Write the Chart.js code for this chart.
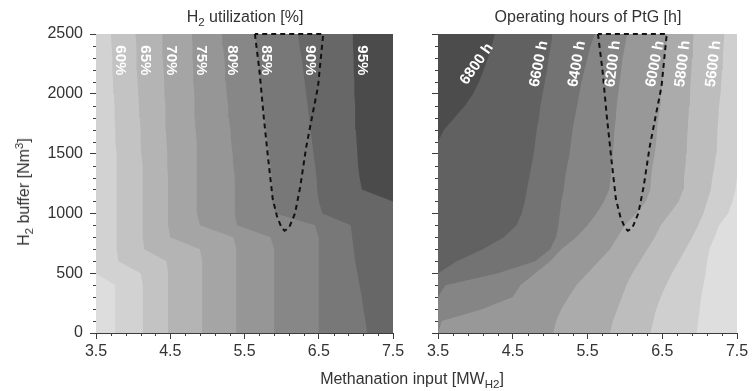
<!DOCTYPE html>
<html>
<head>
<meta charset="utf-8">
<script src="https://cdn.jsdelivr.net/npm/chart.js@4.4.1/dist/chart.umd.min.js"></script>
<style>
  html, body { margin: 0; padding: 0; background: #fff; }
  #wrap { position: relative; width: 753px; height: 391px; overflow: hidden;
          font-family: "Liberation Sans", Arial, sans-serif; color: #333; }
  .box { position: absolute; top: 0; height: 391px; }
  #leftBox { left: 0; width: 410px; }
  #rightBox { left: 400px; width: 353px; }
  .txt { position: absolute; white-space: nowrap; font-size: 16px; transform: translate(-50%, -50%); }
  .vert { transform: translate(-50%, -50%) rotate(-90deg); }
  sub, sup { font-size: 72%; line-height: 0; }
  sub { vertical-align: -0.35em; }
  sup { vertical-align: 0.55em; }
</style>
</head>
<body>
<div id="wrap">
  <div class="box" id="leftBox"><canvas id="util" width="410" height="391" style="width:410px;height:391px"></canvas></div>
  <div class="box" id="rightBox"><canvas id="hours" width="353" height="391" style="width:353px;height:391px"></canvas></div>
  <div class="txt" style="left:245px;top:17px">H<sub>2</sub> utilization [%]</div>
  <div class="txt" style="left:588px;top:17px">Operating hours of PtG [h]</div>
  <div class="txt vert" style="left:24px;top:192px">H<sub>2</sub> buffer [Nm<sup>3</sup>]</div>
  <div class="txt" style="left:412px;top:379px">Methanation input [MW<sub>H2</sub>]</div>
</div>
<script>
// H2 buffer levels (Nm3) at which every contour position is given
const bufferLevels = [0, 100, 200, 300, 400, 500, 600, 700, 800, 900, 1000, 1100, 1200,
  1300, 1400, 1500, 1600, 1700, 1800, 1900, 2000, 2100, 2200, 2300, 2400, 2500];

// Methanation input (MW) where each H2-utilization contour lies at those buffer levels
const util55 = [3.76,3.76,3.76,3.76,3.76,3.5,3.5,3.5,3.5,3.5,3.5,3.5,3.5,3.5,3.5,3.5,3.5,3.5,3.5,3.5,3.5,3.5,3.5,3.5,3.5,3.5];
const util60 = [4.13,4.13,4.13,4.13,4.13,4.10,3.80,3.78,3.78,3.78,3.78,3.78,3.78,3.78,3.77,3.77,3.76,3.76,3.75,3.75,3.74,3.73,3.72,3.72,3.71,3.70];
const util65 = [4.47,4.47,4.47,4.47,4.47,4.47,4.45,4.15,4.13,4.13,4.13,4.13,4.13,4.13,4.12,4.11,4.10,4.10,4.09,4.08,4.07,4.06,4.05,4.05,4.04,4.03];
const util70 = [4.93,4.93,4.93,4.93,4.93,4.93,4.93,4.90,4.50,4.47,4.47,4.47,4.47,4.47,4.46,4.46,4.45,4.44,4.44,4.43,4.42,4.42,4.41,4.40,4.40,4.39];
const util75 = [5.39,5.39,5.39,5.39,5.39,5.39,5.39,5.39,5.35,4.90,4.86,4.86,4.86,4.86,4.86,4.85,4.85,4.84,4.83,4.83,4.82,4.81,4.81,4.80,4.80,4.79];
const util80 = [5.90,5.90,5.90,5.90,5.90,5.90,5.90,5.90,5.85,5.40,5.37,5.37,5.37,5.37,5.35,5.34,5.32,5.31,5.29,5.28,5.26,5.25,5.24,5.23,5.21,5.20];
const util85 = [6.50,6.50,6.50,6.50,6.50,6.50,6.50,6.50,6.50,6.45,5.92,5.87,5.87,5.87,5.85,5.83,5.81,5.79,5.77,5.75,5.73,5.71,5.70,5.68,5.66,5.64];
const util90 = [7.15,7.13,7.10,7.08,7.05,7.02,6.99,6.97,6.95,6.93,6.55,6.50,6.48,6.47,6.45,6.43,6.41,6.39,6.37,6.35,6.33,6.31,6.29,6.27,6.24,6.22];
const util95 = [7.5,7.5,7.5,7.5,7.5,7.5,7.5,7.5,7.5,7.5,7.5,7.5,7.08,7.05,7.03,7.02,7.01,7.00,6.99,6.99,6.98,6.98,6.97,6.97,6.96,6.96];
const utilLevels = ['55%', '60%', '65%', '70%', '75%', '80%', '85%', '90%', '95%'];

// Methanation input (MW) where each operating-hours contour lies
const hours6800 = [3.5,3.5,3.5,3.5,3.5,3.5,3.5,3.5,3.5,3.5,3.5,3.5,3.5,3.5,3.5,3.5,3.5,3.58,3.72,3.86,3.97,4.05,4.11,4.17,4.22,4.26];
const hours6600 = [3.5,3.5,3.5,3.5,3.5,3.5,3.75,4.10,4.38,4.55,4.62,4.66,4.69,4.72,4.75,4.78,4.80,4.82,4.85,4.87,4.90,4.93,4.96,4.98,5.01,5.03];
const hours6400 = [3.5,3.5,3.5,3.5,3.6,4.3,4.8,5.0,5.08,5.11,5.13,5.15,5.18,5.20,5.23,5.26,5.28,5.30,5.33,5.36,5.39,5.42,5.46,5.50,5.54,5.60];
const hours6200 = [3.5,3.55,4.1,4.5,4.6,4.8,5.0,5.15,5.35,5.5,5.62,5.72,5.79,5.81,5.82,5.84,5.85,5.86,5.88,5.89,5.91,5.93,5.95,5.97,6.00,6.03];
const hours6000 = [5.04,5.08,5.15,5.25,5.35,5.5,5.65,5.8,5.9,6.0,6.15,6.28,6.34,6.35,6.37,6.40,6.42,6.43,6.45,6.47,6.48,6.50,6.52,6.53,6.55,6.56];
const hours5800 = [5.80,5.84,5.90,5.96,6.02,6.10,6.20,6.30,6.40,6.48,6.60,6.72,6.78,6.79,6.81,6.82,6.83,6.84,6.85,6.86,6.87,6.88,6.89,6.90,6.91,6.92];
const hours5600 = [6.34,6.38,6.42,6.48,6.55,6.63,6.72,6.81,6.90,6.98,7.05,7.10,7.15,7.17,7.20,7.22,7.23,7.24,7.25,7.26,7.28,7.29,7.30,7.31,7.32,7.33];
const hours5400 = [6.96,6.98,7.0,7.02,7.05,7.08,7.1,7.13,7.2,7.26,7.38,7.44,7.48,7.5,7.5,7.5,7.5,7.5,7.5,7.5,7.5,7.5,7.5,7.5,7.5,7.5];
const hoursLevels = ['6800 h', '6600 h', '6400 h', '6200 h', '6000 h', '5800 h', '5600 h', '5400 h'];

// Outline of the preferred operating window (same in both panels)
const windowX = [5.64, 5.70, 5.76, 5.82, 5.88, 5.94, 6.00, 6.04, 6.10, 6.18, 6.25, 6.33, 6.42, 6.49, 6.56, 5.64];
const windowY = [2500, 2200, 1800, 1450, 1120, 970, 880, 855, 880, 1000, 1220, 1550, 1840, 2060, 2500, 2500];

// Axis ticks
const xMajorTicks = [3.5, 4.5, 5.5, 6.5, 7.5];
const yMajorTicks = [0, 500, 1000, 1500, 2000, 2500];

// Band shades, from the region left of the first contour to the region right of the last
const utilShades = ['#dddddd', '#d2d2d2', '#c3c3c3', '#b4b4b4', '#a5a5a5', '#969696', '#878787', '#787878', '#676767', '#4b4b4b'];
const hoursShades = ['#4c4c4c', '#616161', '#737373', '#858585', '#989898', '#ababab', '#bdbdbd', '#cfcfcf', '#dedede'];

const X_MIN = 3.5, X_MAX = 7.5, Y_MIN = 0, Y_MAX = 2500;
const AXIS_COLOR = '#3c3c3c';
const TICK_FONT = { family: '"Liberation Sans", Arial, sans-serif', size: 16 };

function valueAt(xs, y) {
  for (let i = 1; i < bufferLevels.length; i++) {
    if (y <= bufferLevels[i]) {
      const t = (y - bufferLevels[i - 1]) / (bufferLevels[i] - bufferLevels[i - 1]);
      return xs[i - 1] + t * (xs[i] - xs[i - 1]);
    }
  }
  return xs[xs.length - 1];
}

// paints the band left of the first contour
const bandBackground = {
  id: 'bandBackground',
  beforeDatasetsDraw(chart, args, opts) {
    const { ctx, chartArea: a } = chart;
    ctx.save();
    ctx.fillStyle = opts.color;
    ctx.fillRect(a.left, a.top, a.right - a.left, a.bottom - a.top);
    ctx.restore();
  }
};
// short minor tick marks between the labelled ticks
const minorTicks = {
  id: 'minorTicks',
  afterDraw(chart) {
    const { ctx, chartArea: a, scales } = chart;
    ctx.save();
    ctx.strokeStyle = AXIS_COLOR;
    ctx.lineWidth = 1;
    ctx.beginPath();
    for (let k = 0; k <= 20; k++) {
      if (k % 5 === 0) continue;
      const px = Math.round(scales.x.getPixelForValue(X_MIN + k * 0.2)) + 0.5;
      ctx.moveTo(px, a.bottom); ctx.lineTo(px, a.bottom + 3);
    }
    for (let v = 100; v < Y_MAX; v += 100) {
      if (v % 500 === 0) continue;
      const py = Math.round(scales.y.getPixelForValue(v)) + 0.5;
      ctx.moveTo(a.left - 3, py); ctx.lineTo(a.left, py);
    }
    ctx.stroke();
    ctx.restore();
  }
};

function contourLabels(items, shift) {
  return {
    id: 'contourLabels',
    afterDatasetsDraw(chart) {
      const { ctx, scales } = chart;
      ctx.save();
      ctx.fillStyle = '#ffffff';
      ctx.font = 'bold 15px "Liberation Sans", Arial, sans-serif';
      ctx.textAlign = 'center';
      ctx.textBaseline = 'middle';
      items.forEach(it => {
        const px = scales.x.getPixelForValue(valueAt(it.contour, it.at)) + shift;
        const py = scales.y.getPixelForValue(it.at);
        ctx.save();
        ctx.translate(px, py);
        ctx.rotate(it.angle * Math.PI / 180);
        ctx.fillText(it.text, 0, 0);
        ctx.restore();
      });
      ctx.restore();
    }
  };
}

function buildPanel(canvasId, contours, shades, labelItems, labelShift, opt) {
  const datasets = contours.map((xs, k) => ({
    data: bufferLevels.map((y, i) => ({ x: xs[i], y })),
    fill: { value: X_MAX },
    backgroundColor: shades[k + 1],
    borderWidth: 0,
    pointRadius: 0,
    order: contours.length - k + 1
  }));
  datasets.push({
    data: windowX.map((x, i) => ({ x, y: windowY[i] })),
    fill: false,
    borderColor: '#111',
    borderWidth: 2,
    borderDash: [5, 4],
    pointRadius: 0,
    clip: 3,
    order: 0
  });
  return new Chart(document.getElementById(canvasId), {
    type: 'line',
    data: { datasets },
    plugins: [bandBackground, minorTicks, contourLabels(labelItems, labelShift)],
    options: {
      indexAxis: 'y',
      responsive: false,
      animation: false,
      events: [],
      layout: { padding: { top: 34, right: opt.padRight, left: 0, bottom: 0 } },
      elements: { line: { tension: 0 } },
      plugins: {
        legend: { display: false },
        tooltip: { enabled: false },
        bandBackground: { color: shades[0] }
      },
      scales: {
        x: {
          type: 'linear', min: X_MIN, max: X_MAX,
          afterBuildTicks: s => { s.ticks = xMajorTicks.map(v => ({ value: v })); },
          afterFit: s => { s.height = 58; },
          border: { color: AXIS_COLOR, width: 1 },
          grid: { drawOnChartArea: false, drawTicks: true, tickLength: 6, tickColor: AXIS_COLOR },
          ticks: { color: '#333', font: TICK_FONT, padding: 3, maxRotation: 0, autoSkip: false,
                   callback: v => v.toFixed(1) }
        },
        y: {
          type: 'linear', min: Y_MIN, max: Y_MAX,
          afterBuildTicks: s => { s.ticks = yMajorTicks.map(v => ({ value: v })); },
          afterFit: s => { s.width = opt.yWidth; },
          border: { color: AXIS_COLOR, width: 1 },
          grid: { drawOnChartArea: false, drawTicks: true, tickLength: 6, tickColor: AXIS_COLOR },
          ticks: { display: opt.yLabels, color: '#333', font: TICK_FONT, padding: 7, autoSkip: false,
                   callback: v => String(v) }
        }
      }
    }
  });
}

const utilContours = [util55, util60, util65, util70, util75, util80, util85, util90, util95];
const utilLabelItems = utilContours.slice(1).map((c, k) => ({ contour: c, at: 2280, angle: 90, text: utilLevels[k + 1] }));
buildPanel('util', utilContours, utilShades, utilLabelItems, 8, { padRight: 17, yWidth: 96, yLabels: true });

const hoursContours = [hours6800, hours6600, hours6400, hours6200, hours6000, hours5800, hours5600, hours5400];
const hoursAngles = [-55, -79, -80, -83, -79, -83, -83];
const hoursLabelItems = hoursContours.slice(0, 7).map((c, k) => ({ contour: c, at: 2250, angle: hoursAngles[k], text: hoursLevels[k] }));
buildPanel('hours', hoursContours, hoursShades, hoursLabelItems, -9, { padRight: 16, yWidth: 38, yLabels: false });
</script>
</body>
</html>
